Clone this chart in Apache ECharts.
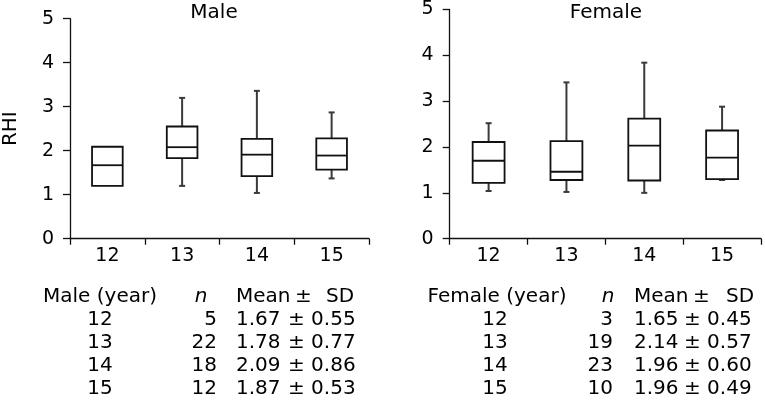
<!DOCTYPE html>
<html>
<head>
<meta charset="utf-8">
<script src="https://cdn.jsdelivr.net/npm/echarts@6/dist/echarts.min.js"></script>
<style>
html,body{margin:0;padding:0;background:#fff;}
#c{width:765px;height:403px;}
</style>
</head>
<body>
<div id="c"></div>
<script>
var categories = ['12', '13', '14', '15'];
var yTicks = [0, 1, 2, 3, 4, 5];

var maleMin = [1.20, 1.20, 1.04, 1.37];
var maleQ1  = [1.20, 1.83, 1.42, 1.57];
var maleMed = [1.67, 2.08, 1.91, 1.89];
var maleQ3  = [2.09, 2.55, 2.27, 2.28];
var maleMax = [2.09, 3.20, 3.36, 2.87];

var femaleMin = [1.04, 1.02, 1.00, 1.28];
var femaleQ1  = [1.22, 1.28, 1.27, 1.30];
var femaleMed = [1.70, 1.46, 2.03, 1.77];
var femaleQ3  = [2.11, 2.13, 2.62, 2.36];
var femaleMax = [2.52, 3.41, 3.84, 2.88];

var tableYears = ['12', '13', '14', '15'];
var maleN = ['5', '22', '18', '12'];
var maleMean = ['1.67', '1.78', '2.09', '1.87'];
var maleSD = ['0.55', '0.77', '0.86', '0.53'];
var femaleN = ['3', '19', '23', '10'];
var femaleMean = ['1.65', '2.14', '1.96', '1.96'];
var femaleSD = ['0.45', '0.57', '0.60', '0.49'];

var FONT = 'DejaVu Sans';
var INK = '#000';

function buildData(mn, q1, md, q3, mx) {
  return categories.map(function (c, i) { return [i, mn[i], q1[i], md[i], q3[i], mx[i]]; });
}

function renderBox(params, api) {
  var i = api.value(0);
  var x = api.coord([i, 0])[0];
  var bw = api.size([1, 0])[0] * 0.41;
  var h = bw / 2;
  var yMin = api.coord([i, api.value(1)])[1];
  var yQ1 = api.coord([i, api.value(2)])[1];
  var yMed = api.coord([i, api.value(3)])[1];
  var yQ3 = api.coord([i, api.value(4)])[1];
  var yMax = api.coord([i, api.value(5)])[1];
  var wStyle = { stroke: '#3a3a3a', lineWidth: 2 };
  var children = [];
  if (yMax < yQ3 - 0.5) {
    children.push({ type: 'line', shape: { x1: x, y1: yQ3, x2: x, y2: yMax }, style: wStyle });
    children.push({ type: 'line', shape: { x1: x - 3, y1: yMax, x2: x + 3, y2: yMax }, style: wStyle });
  }
  if (yMin > yQ1 + 0.5) {
    children.push({ type: 'line', shape: { x1: x, y1: yQ1, x2: x, y2: yMin }, style: wStyle });
    children.push({ type: 'line', shape: { x1: x - 3, y1: yMin, x2: x + 3, y2: yMin }, style: wStyle });
  }
  children.push({ type: 'rect', shape: { x: x - h, y: yQ3, width: bw, height: yQ1 - yQ3 },
    style: { fill: '#fff', stroke: '#111', lineWidth: 1.8 } });
  children.push({ type: 'line', shape: { x1: x - h, y1: yMed, x2: x + h, y2: yMed },
    style: { stroke: '#111', lineWidth: 1.8 } });
  return { type: 'group', children: children };
}

function xAxisOpt(gi) {
  return {
    type: 'category', gridIndex: gi, data: categories, boundaryGap: true,
    axisLine: { show: true, lineStyle: { color: '#111', width: 1.3 } },
    axisTick: { show: true, length: 6, alignWithLabel: false, lineStyle: { color: '#111', width: 1.3 } },
    axisLabel: { color: INK, fontSize: 19, fontFamily: FONT, margin: 8 },
    splitLine: { show: false }
  };
}
function yAxisOpt(gi, name) {
  return {
    type: 'value', gridIndex: gi, min: yTicks[0], max: yTicks[yTicks.length - 1], interval: 1,
    name: name, nameLocation: 'middle', nameRotate: 90, nameGap: 49,
    nameTextStyle: { color: INK, fontSize: 20, fontFamily: FONT },
    axisLine: { show: true, lineStyle: { color: '#111', width: 1.3 } },
    axisTick: { show: true, length: 7, lineStyle: { color: '#111', width: 1.3 } },
    axisLabel: { color: INK, fontSize: 19, fontFamily: FONT, margin: 16 },
    splitLine: { show: false }
  };
}

var rowY0 = 297, rowDY = 23;
var graphics = [];
function txt(str, x, y, align, extra) {
  var st = { text: str, fontSize: 20, fontFamily: FONT, fill: INK, textAlign: align, textVerticalAlign: 'middle' };
  if (extra) for (var k in extra) st[k] = extra[k];
  graphics.push({ type: 'text', x: x, y: y, style: st });
}
// titles
txt('Male', 214, 13, 'center');
txt('Female', 606, 13, 'center');

function buildTable(title, titleX, yearX, nX, nRight, meanX, pmHeadX, sdX, pmX, nArr, meanArr, sdArr) {
  txt(title, titleX, rowY0, 'center');
  txt('n', nX, rowY0, 'center', { fontStyle: 'italic' });
  txt('Mean', meanX, rowY0, 'left');
  txt('\u00b1', pmHeadX, rowY0, 'left');
  txt('SD', sdX, rowY0, 'left');
  for (var i = 0; i < tableYears.length; i++) {
    var y = rowY0 + rowDY * (i + 1);
    txt(tableYears[i], yearX, y, 'center');
    txt(nArr[i], nRight, y, 'right');
    txt(meanArr[i], meanX, y, 'left');
    txt('\u00b1 ' + sdArr[i], pmX, y, 'left');
  }
}
buildTable('Male (year)', 100, 100, 201, 217, 236, 295, 326, 288, maleN, maleMean, maleSD);
buildTable('Female (year)', 497, 495, 608, 613, 634, 693, 726, 684, femaleN, femaleMean, femaleSD);

var chart = echarts.init(document.getElementById('c'), null, { renderer: 'canvas' });
chart.setOption({
  animation: false,
  backgroundColor: '#fff',
  grid: [
    { left: 59, top: 18.7, width: 310, height: 220 },
    { left: 449.7, top: 8.7, width: 311.3, height: 230 }
  ],
  xAxis: [xAxisOpt(0), xAxisOpt(1)],
  yAxis: [yAxisOpt(0, 'RHI'), yAxisOpt(1, '')],
  series: [
    { type: 'custom', xAxisIndex: 0, yAxisIndex: 0, renderItem: renderBox,
      encode: { x: 0, y: [1, 2, 3, 4, 5] },
      data: buildData(maleMin, maleQ1, maleMed, maleQ3, maleMax) },
    { type: 'custom', xAxisIndex: 1, yAxisIndex: 1, renderItem: renderBox,
      encode: { x: 0, y: [1, 2, 3, 4, 5] },
      data: buildData(femaleMin, femaleQ1, femaleMed, femaleQ3, femaleMax) }
  ],
  graphic: graphics
});
</script>
</body>
</html>
